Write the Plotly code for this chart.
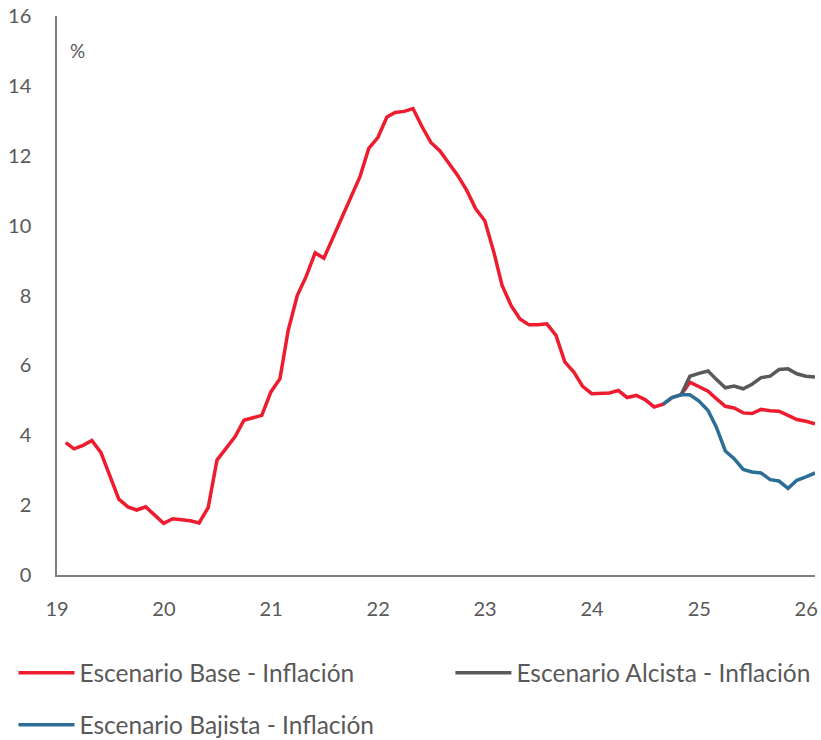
import pandas as pd
import plotly.graph_objects as go

# Monthly inflation, Jan 2019 - Jan 2026 (%)
base = [3.79, 3.61, 3.71, 3.85, 3.50, 2.85, 2.17, 1.95, 1.86, 1.95, 1.73, 1.48,
        1.61, 1.59, 1.55, 1.49, 1.93, 3.29, 3.62, 3.96, 4.43, 4.50, 4.57, 5.24,
        5.62, 7.00, 8.00, 8.54, 9.22, 9.07, 9.66, 10.24, 10.83, 11.40, 12.21, 12.52,
        13.11, 13.24, 13.27, 13.35, 12.83, 12.38, 12.14, 11.78, 11.43, 11.00, 10.48, 10.14,
        9.24, 8.29, 7.71, 7.33, 7.16, 7.16, 7.19, 6.86, 6.10, 5.81, 5.40, 5.19,
        5.19, 5.21, 5.28, 5.08, 5.14, 5.02, 4.81, 4.89, 5.08, 5.16, 5.52, 5.40,
        5.26, 5.05, 4.83, 4.78, 4.64, 4.62, 4.74, 4.70, 4.69, 4.57, 4.45, 4.40,
        4.33]
# Upside scenario, from Oct 2024
alcista = [5.16, 5.69, 5.77, 5.84, 5.60, 5.36, 5.41, 5.33, 5.46, 5.65, 5.69, 5.88,
           5.90, 5.76, 5.69, 5.67]
# Downside scenario, from Aug 2024
bajista = [4.89, 5.08, 5.16, 5.16, 4.98, 4.71, 4.24, 3.55, 3.33, 3.02, 2.95, 2.92,
           2.73, 2.69, 2.48, 2.71, 2.81, 2.92]

names = ["Escenario Base - Inflación", "Escenario Alcista - Inflación",
         "Escenario Bajista - Inflación"]
colors = ["#ED1C2E", "#595959", "#2B6F96"]

months = pd.date_range("2019-01-31", periods=len(base), freq=pd.offsets.MonthEnd())
m_alc = months[len(base) - len(alcista):]
m_baj = months[len(base) - len(bajista):]

FONT = "Lato"
TXT = "#595959"

fig = go.Figure()
fig.add_trace(go.Scatter(x=months, y=base, mode="lines", name=names[0],
                         line=dict(color=colors[0], width=3.5), legend="legend"))
fig.add_trace(go.Scatter(x=m_alc, y=alcista, mode="lines", name=names[1],
                         line=dict(color=colors[1], width=3.5), legend="legend3"))
fig.add_trace(go.Scatter(x=m_baj, y=bajista, mode="lines", name=names[2],
                         line=dict(color=colors[2], width=3.5), legend="legend2"))


def legend_box(x, y):
    return dict(orientation="h", x=x, y=y, xanchor="left", yanchor="middle",
                itemwidth=56, font=dict(family=FONT, size=24.5, color=TXT),
                bgcolor="rgba(0,0,0,0)")


fig.update_layout(
    width=821, height=740,
    margin=dict(l=57, r=6, t=16, b=165, autoexpand=False),
    plot_bgcolor="white", paper_bgcolor="white",
    font=dict(family=FONT, size=20, color=TXT),
    showlegend=True,
    legend=legend_box(-0.0574, -0.175),
    legend3=legend_box(0.519, -0.175),
    legend2=legend_box(-0.0574, -0.268),
    annotations=[dict(text="%", x=0.0, y=15.0, xref="paper", yref="y", xshift=11,
                      showarrow=False, xanchor="left", yanchor="middle",
                      font=dict(family=FONT, size=19, color=TXT))],
)

fig.update_xaxes(
    type="date", range=["2019-01-01", "2026-01-31"],
    tick0="2019-01-01", dtick="M12", tickformat="%y",
    showgrid=False, zeroline=False, showline=True, linecolor="#7F7F7F", linewidth=1.5,
    ticks="", ticklabelstandoff=15, tickfont=dict(family=FONT, size=20, color=TXT),
)
fig.update_yaxes(
    range=[0, 16], dtick=2, showgrid=False, zeroline=False,
    showline=True, linecolor="#7F7F7F", linewidth=1.5,
    ticks="", ticklabelstandoff=20, tickfont=dict(family=FONT, size=20, color=TXT),
)

fig.write_html("out.html")
